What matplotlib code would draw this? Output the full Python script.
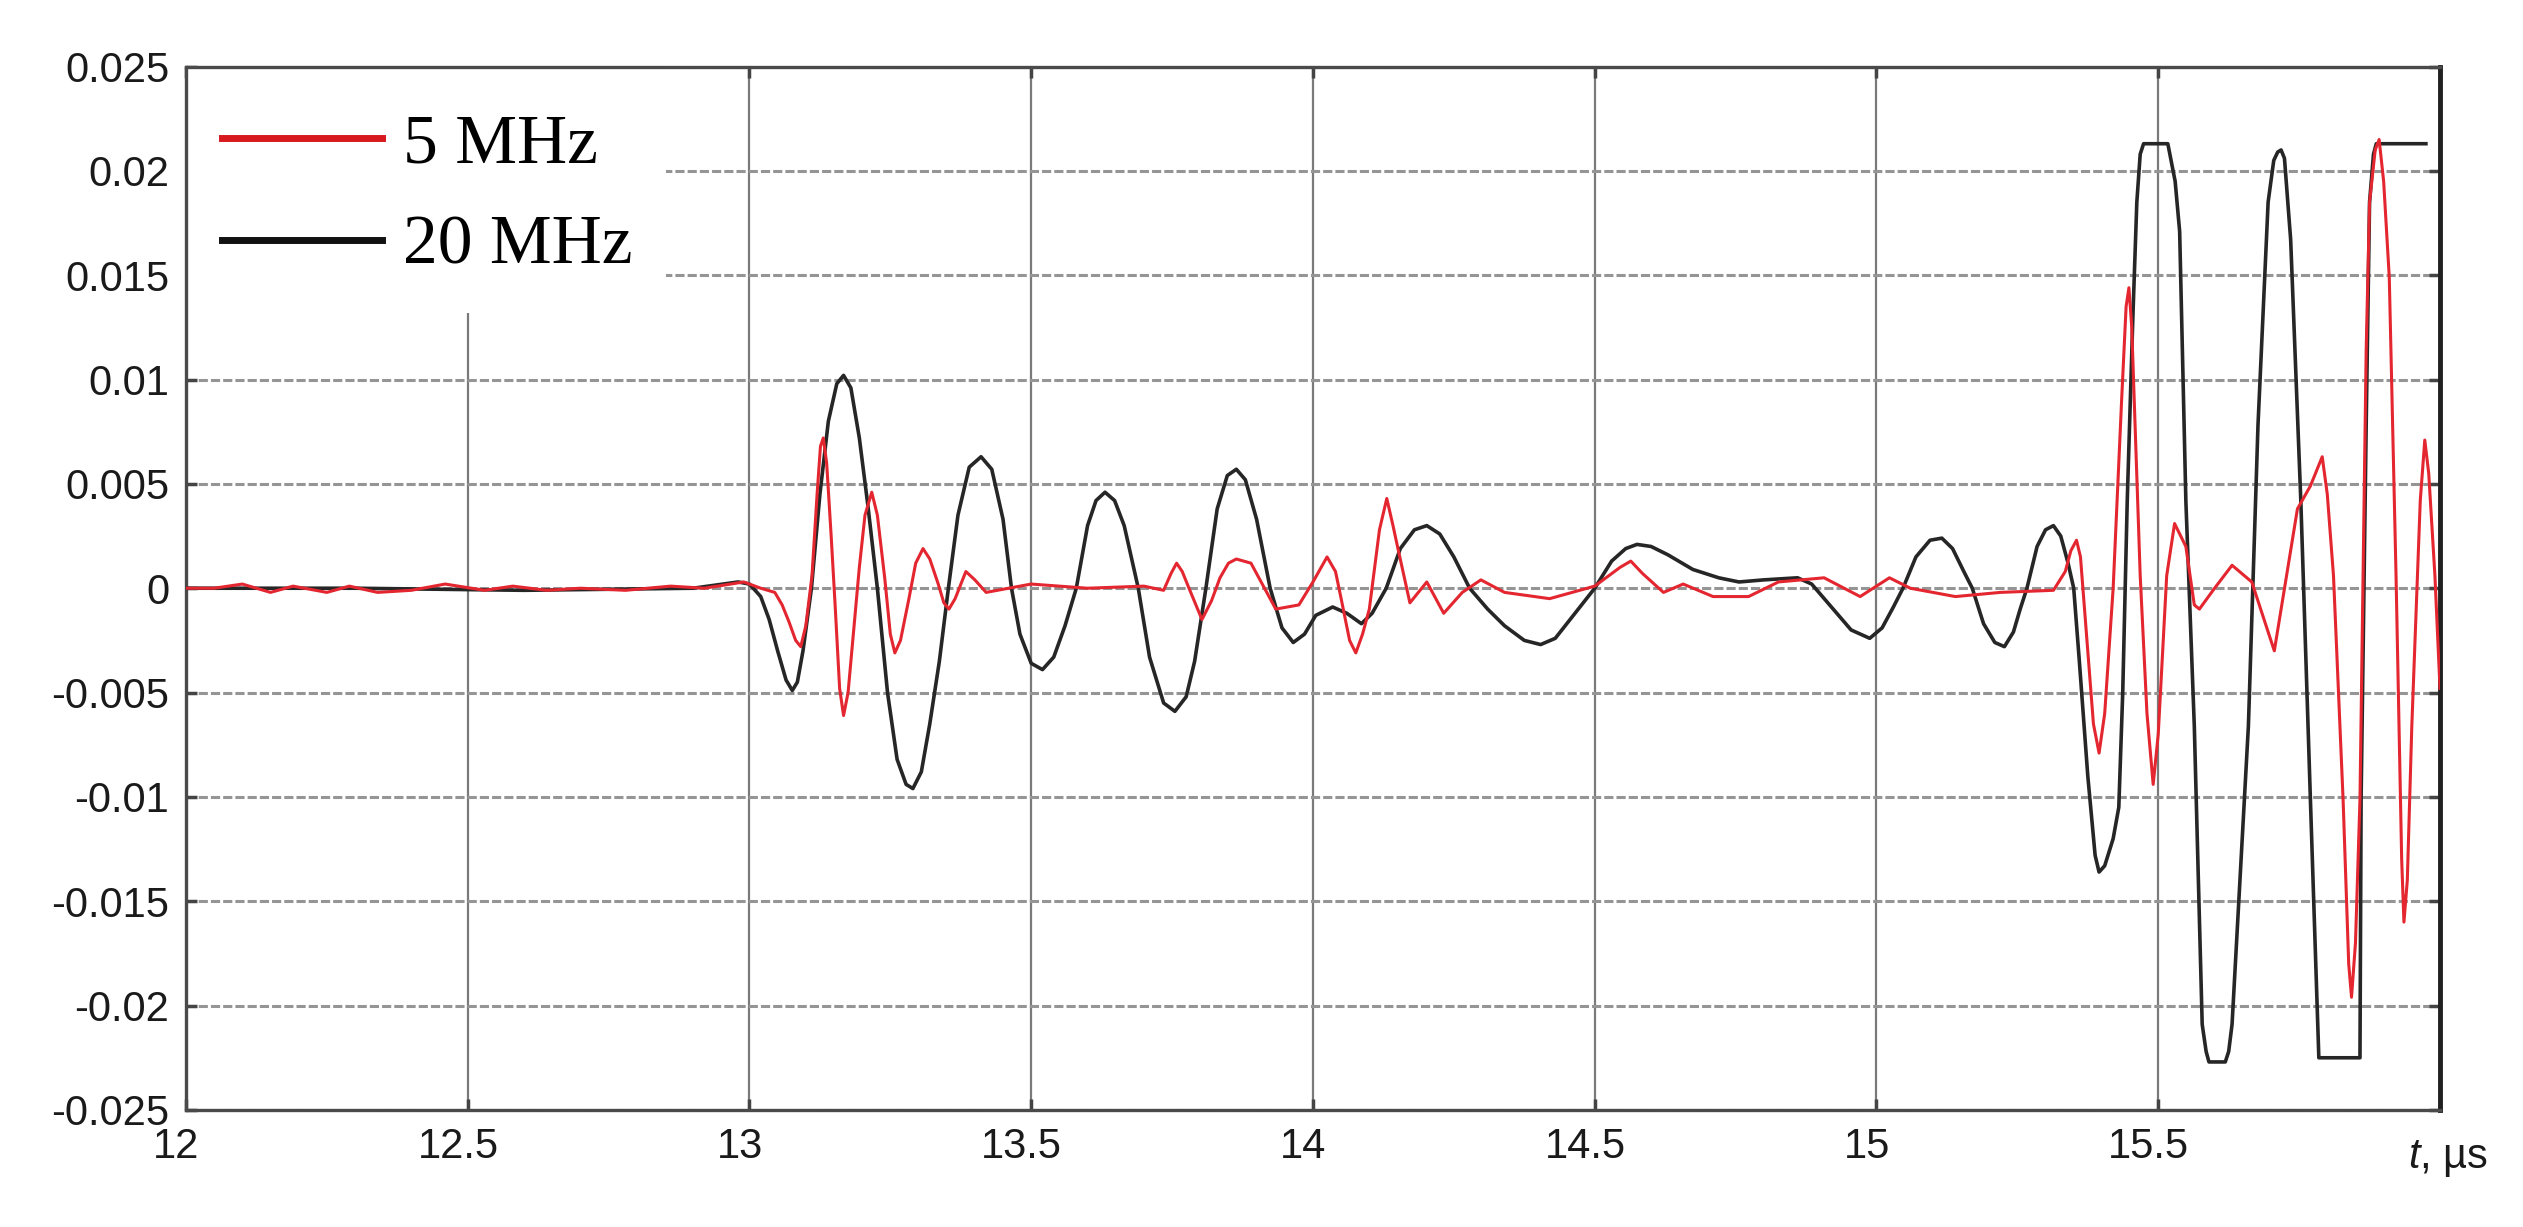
import matplotlib
matplotlib.use("Agg")
import matplotlib.pyplot as plt
import matplotlib.transforms as mtransforms
from matplotlib.lines import Line2D
from matplotlib.patches import Rectangle

plt.rcParams['font.family'] = ['Liberation Sans', 'DejaVu Sans']
plt.rcParams['mathtext.fontset'] = 'custom'
plt.rcParams['mathtext.rm'] = 'Liberation Sans'
plt.rcParams['mathtext.it'] = 'Liberation Sans:italic'

# 20 MHz signal (black), t in us
t_20 = [12.00, 12.30, 12.60, 12.90, 12.98, 13.00, 13.02, 13.035, 13.05, 13.065,
        13.076, 13.085, 13.095, 13.11, 13.125, 13.14, 13.155, 13.167, 13.18, 13.195,
        13.21, 13.227, 13.245, 13.262, 13.278, 13.29, 13.305, 13.32, 13.337, 13.353,
        13.37, 13.39, 13.411, 13.43, 13.45, 13.465, 13.48, 13.50, 13.52, 13.54,
        13.56, 13.58, 13.60, 13.615, 13.631, 13.648, 13.665, 13.69, 13.71, 13.735,
        13.755, 13.775, 13.79, 13.81, 13.83, 13.848, 13.864, 13.88, 13.90, 13.924,
        13.945, 13.965, 13.985, 14.005, 14.035, 14.06, 14.086, 14.105, 14.13, 14.155,
        14.18, 14.202, 14.225, 14.25, 14.278, 14.31, 14.34, 14.375, 14.404, 14.43,
        14.465, 14.50, 14.53, 14.555, 14.575, 14.60, 14.63, 14.674, 14.72, 14.756,
        14.80, 14.86, 14.885, 14.92, 14.955, 14.988, 15.01, 15.03, 15.047, 15.07,
        15.095, 15.116, 15.135, 15.155, 15.17, 15.19, 15.21, 15.227, 15.243, 15.255,
        15.267, 15.285, 15.30, 15.314, 15.327, 15.34, 15.35, 15.36, 15.375, 15.388,
        15.395, 15.405, 15.42, 15.43, 15.437, 15.445, 15.455, 15.462, 15.468, 15.474,
        15.517, 15.53, 15.538, 15.549, 15.564, 15.578, 15.585, 15.59, 15.619, 15.625,
        15.631, 15.66, 15.677, 15.695, 15.705, 15.712, 15.718, 15.724, 15.735, 15.753,
        15.77, 15.785, 15.858, 15.86, 15.869, 15.875, 15.882, 15.887, 15.975]
v_20 = [0.0, 0.0, -0.0001, 0.0, 0.0003, 0.0002, -0.0004, -0.0015, -0.0030, -0.0044,
        -0.0049, -0.0045, -0.0030, 0.0, 0.0045, 0.0080, 0.0098, 0.0102, 0.0096, 0.0072,
        0.0040, 0.0, -0.0050, -0.0082, -0.0094, -0.0096, -0.0088, -0.0065, -0.0035, 0.0,
        0.0035, 0.0058, 0.0063, 0.0057, 0.0033, 0.0, -0.0022, -0.0036, -0.0039, -0.0033,
        -0.0018, 0.0, 0.0030, 0.0042, 0.0046, 0.0042, 0.0030, 0.0, -0.0033, -0.0055,
        -0.0059, -0.0052, -0.0035, 0.0, 0.0038, 0.0054, 0.0057, 0.0052, 0.0033, 0.0,
        -0.0019, -0.0026, -0.0022, -0.0013, -0.0009, -0.0012, -0.0017, -0.0012, 0.0, 0.0019,
        0.0028, 0.0030, 0.0026, 0.0015, 0.0, -0.0010, -0.0018, -0.0025, -0.0027, -0.0024,
        -0.0012, 0.0, 0.0013, 0.0019, 0.0021, 0.0020, 0.0016, 0.0009, 0.0005, 0.0003,
        0.0004, 0.0005, 0.0002, -0.0009, -0.0020, -0.0024, -0.0019, -0.0009, 0.0, 0.0015,
        0.0023, 0.0024, 0.0019, 0.0008, 0.0, -0.0017, -0.0026, -0.0028, -0.0021, -0.0010,
        0.0, 0.0020, 0.0028, 0.0030, 0.0025, 0.0012, 0.0, -0.0035, -0.0090, -0.0128,
        -0.0136, -0.0133, -0.0120, -0.0105, -0.0050, 0.0042, 0.0130, 0.0185, 0.0208, 0.0213,
        0.0213, 0.0195, 0.0171, 0.0042, -0.0066, -0.0209, -0.0222, -0.0227, -0.0227, -0.0222,
        -0.0209, -0.0066, 0.0078, 0.0185, 0.0205, 0.0209, 0.0210, 0.0206, 0.0167, 0.0042,
        -0.0101, -0.0225, -0.0225, -0.0101, 0.0078, 0.0185, 0.0208, 0.0213, 0.0213]

# 5 MHz signal (red)
t_5 = [12.00, 12.05, 12.10, 12.15, 12.19, 12.25, 12.29, 12.34, 12.40, 12.46,
       12.53, 12.58, 12.64, 12.70, 12.78, 12.86, 12.92, 12.99, 13.02, 13.045,
       13.058, 13.07, 13.082, 13.091, 13.10, 13.111, 13.12, 13.126, 13.131, 13.137,
       13.145, 13.152, 13.16, 13.167, 13.175, 13.185, 13.195, 13.205, 13.217, 13.227,
       13.24, 13.25, 13.258, 13.268, 13.283, 13.295, 13.308, 13.32, 13.335, 13.345,
       13.354, 13.365, 13.384, 13.40, 13.42, 13.50, 13.60, 13.70, 13.735, 13.748,
       13.758, 13.768, 13.78, 13.803, 13.82, 13.835, 13.85, 13.864, 13.89, 13.91,
       13.934, 13.975, 14.00, 14.025, 14.04, 14.05, 14.065, 14.076, 14.088, 14.10,
       14.118, 14.131, 14.142, 14.15, 14.172, 14.202, 14.232, 14.265, 14.298, 14.34,
       14.42, 14.50, 14.545, 14.564, 14.585, 14.622, 14.657, 14.71, 14.773, 14.826,
       14.907, 14.971, 15.023, 15.06, 15.14, 15.22, 15.314, 15.335, 15.345, 15.355,
       15.362, 15.375, 15.385, 15.395, 15.405, 15.42, 15.435, 15.443, 15.448, 15.453,
       15.46, 15.468, 15.48, 15.491, 15.50, 15.515, 15.529, 15.549, 15.564, 15.573,
       15.60, 15.631, 15.666, 15.706, 15.747, 15.77, 15.791, 15.80, 15.811, 15.828,
       15.838, 15.843, 15.85, 15.858, 15.869, 15.875, 15.885, 15.892, 15.90, 15.91,
       15.922, 15.932, 15.936, 15.942, 15.95, 15.965, 15.973, 15.98, 15.991, 16.00]
v_5 = [0.0, 0.0, 0.0002, -0.0002, 0.0001, -0.0002, 0.0001, -0.0002, -0.0001, 0.0002,
       -0.0001, 0.0001, -0.0001, 0.0, -0.0001, 0.0001, 0.0, 0.0003, 0.0, -0.0002,
       -0.0008, -0.0016, -0.0025, -0.0028, -0.0018, 0.0006, 0.0045, 0.0068, 0.0072, 0.0060,
       0.0025, -0.0008, -0.0048, -0.0061, -0.0050, -0.0020, 0.0010, 0.0035, 0.0046, 0.0035,
       0.0005, -0.0022, -0.0031, -0.0025, -0.0005, 0.0012, 0.0019, 0.0014, 0.0002, -0.0007,
       -0.0010, -0.0005, 0.0008, 0.0004, -0.0002, 0.0002, 0.0, 0.0001, -0.0001, 0.0007,
       0.0012, 0.0008, 0.0, -0.0015, -0.0006, 0.0005, 0.0012, 0.0014, 0.0012, 0.0002,
       -0.0010, -0.0008, 0.0003, 0.0015, 0.0008, -0.0005, -0.0025, -0.0031, -0.0022, -0.0010,
       0.0028, 0.0043, 0.0030, 0.0020, -0.0007, 0.0003, -0.0012, -0.0002, 0.0004, -0.0002,
       -0.0005, 0.0001, 0.0010, 0.0013, 0.0007, -0.0002, 0.0002, -0.0004, -0.0004, 0.0003,
       0.0005, -0.0004, 0.0005, 0.0, -0.0004, -0.0002, -0.0001, 0.0008, 0.0018, 0.0023,
       0.0015, -0.0030, -0.0065, -0.0079, -0.0060, 0.0, 0.0090, 0.0135, 0.0144, 0.0125,
       0.0070, 0.0006, -0.0060, -0.0094, -0.0070, 0.0006, 0.0031, 0.0020, -0.0008, -0.0010,
       0.0, 0.0011, 0.0003, -0.0030, 0.0038, 0.0049, 0.0063, 0.0045, 0.0006, -0.0101,
       -0.0180, -0.0196, -0.0170, -0.0101, 0.0114, 0.0185, 0.0210, 0.0215, 0.0195, 0.0149,
       0.0006, -0.0130, -0.0160, -0.0140, -0.0066, 0.0042, 0.0071, 0.0055, 0.0006, -0.0048]

x_ticks = [12, 12.5, 13, 13.5, 14, 14.5, 15, 15.5, 16]
x_labels = ['12', '12.5', '13', '13.5', '14', '14.5', '15', '15.5', '']
y_ticks = [-0.025, -0.02, -0.015, -0.01, -0.005, 0, 0.005, 0.01, 0.015, 0.02, 0.025]
y_labels = ['-0.025', '-0.02', '-0.015', '-0.01', '-0.005', '0', '0.005', '0.01', '0.015', '0.02', '0.025']

fig = plt.figure(figsize=(25.23, 12.27), dpi=100)
ax = fig.add_axes([0.0737, 0.0954, 0.8934, 0.8504])

ax.plot(t_20, v_20, color='#262626', lw=2.6, solid_joinstyle='round', zorder=3)
ax.plot(t_5, v_5, color='#e3262f', lw=2.2, solid_joinstyle='round', zorder=4)

ax.set_xlim(12, 16)
ax.set_ylim(-0.025, 0.025)
ax.set_xticks(x_ticks)
ax.set_xticklabels(x_labels)
ax.set_yticks(y_ticks)
ax.set_yticklabels(y_labels)

ax.set_axisbelow(True)
ax.yaxis.grid(True, color='#959595', lw=2.2, linestyle=(0, (3, 1)))
ax.xaxis.grid(True, color='#7a7a7a', lw=1.6)

ax.tick_params(axis='both', direction='in', length=8, width=2.5, color='#444444',
               labelsize=30, labelcolor='#1a1a1a', pad=12,
               top=True, right=True)
for side in ['left', 'top', 'bottom']:
    ax.spines[side].set_color('#4a4a4a')
    ax.spines[side].set_linewidth(2.4)
ax.spines['right'].set_color('#202020')
ax.spines['right'].set_linewidth(3.5)

# labels sit a bit left of their ticks in the original
shift = mtransforms.ScaledTranslation(-7 / 72, 0, fig.dpi_scale_trans)
for lab in ax.get_xticklabels():
    lab.set_transform(lab.get_transform() + shift)

ax.annotate(r'$t$, µs', xy=(1, 0), xycoords='axes fraction',
            xytext=(6, -20), textcoords='offset points',
            ha='center', va='top', fontsize=30, color='#1a1a1a')

# white area behind the legend hides the grid
ax.add_patch(Rectangle((0, 0.764), 0.213, 0.236, transform=ax.transAxes,
                       facecolor='white', edgecolor='none', zorder=1))

handles = [Line2D([], [], color='#d7191f', lw=5),
           Line2D([], [], color='#111111', lw=5)]
ax.legend(handles, ['5 MHz', '20 MHz'], loc='upper left',
          bbox_to_anchor=(0.016, 0.955), borderaxespad=0, borderpad=0,
          frameon=False, handlelength=2.3, handletextpad=0.3,
          labelspacing=0.55, prop={'family': 'Liberation Serif', 'size': 50})

fig.savefig('out.png', dpi=100)
